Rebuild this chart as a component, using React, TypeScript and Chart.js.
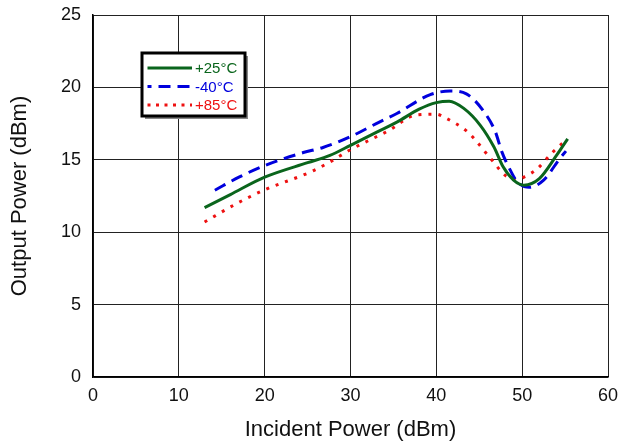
import React, { useEffect, useRef } from "react";
import { Chart, registerables } from "chart.js";

Chart.register(...registerables);

const seriesLabels = ["+25°C", "-40°C", "+85°C"];

const x25 = [13, 16, 20, 25, 27.6, 30, 33, 35.4, 38, 40, 41.5, 43.2, 45.1, 46.7, 47.8, 49, 50.2, 52, 54, 55.3];
const y25 = [11.7, 12.6, 13.8, 14.8, 15.3, 16.0, 16.9, 17.6, 18.5, 18.95, 19.05, 18.55, 17.4, 15.9, 14.5, 13.6, 13.25, 13.7, 15.3, 16.45];

const xM40 = [14.2, 17, 20, 24.5, 26.8, 30, 33, 35.4, 39.3, 41.6, 43.5, 45.7, 46.9, 47.6, 48.6, 49.4, 50.8, 52.5, 54.4, 55.1];
const yM40 = [12.9, 13.8, 14.6, 15.5, 15.85, 16.6, 17.5, 18.2, 19.5, 19.75, 19.55, 18.2, 16.9, 15.6, 14.3, 13.5, 13.1, 13.6, 15.1, 15.6];

const x85 = [13, 16.5, 19.9, 25.5, 27.6, 30, 34.4, 37.7, 40, 41.2, 43.4, 44.5, 46.3, 48.2, 49.4, 50.5, 51.7, 53.6, 54.8];
const y85 = [10.7, 11.9, 12.9, 14.2, 14.85, 15.7, 17.0, 18.1, 18.15, 17.85, 17.05, 16.4, 15.1, 13.85, 13.65, 13.9, 14.35, 15.55, 16.2];

const xTicks = [0, 10, 20, 30, 40, 50, 60];
const yTicks = [0, 5, 10, 15, 20, 25];

const colors = ["#0a651c", "#0000dd", "#ee1111"];
const dashes: number[][] = [[], [12, 7], [3, 7]];

const toPts = (xs: number[], ys: number[]) => xs.map((x, i) => ({ x, y: ys[i] }));

const legendPlugin = {
  id: "boxLegend",
  afterDatasetsDraw(chart: any) {
    const ctx = chart.ctx;
    const x0 = 142, y0 = 53, w = 103, h = 63;
    ctx.save();
    ctx.fillStyle = "#888";
    ctx.fillRect(x0 + 3, y0 + 3, w, h);
    ctx.fillStyle = "#fff";
    ctx.fillRect(x0, y0, w, h);
    ctx.strokeStyle = "#000";
    ctx.lineWidth = 3;
    ctx.strokeRect(x0, y0, w, h);
    const rows = [68, 86.5, 105];
    chart.data.datasets.forEach((ds: any, i: number) => {
      const y = rows[i];
      ctx.beginPath();
      ctx.strokeStyle = ds.borderColor;
      ctx.lineWidth = 3;
      ctx.setLineDash(i === 1 ? [12, 7] : i === 2 ? [3, 5.5] : []);
      ctx.lineDashOffset = i === 1 ? -11 : 0;
      ctx.moveTo(147.5, y);
      ctx.lineTo(192, y);
      ctx.stroke();
      ctx.setLineDash([]);
      ctx.fillStyle = ds.borderColor;
      ctx.font = "15px 'Liberation Sans', Arial, sans-serif";
      ctx.textBaseline = "middle";
      ctx.textAlign = "left";
      ctx.fillText(ds.label, 195, y + 1);
    });
    ctx.restore();
  },
};

export default function App() {
  const ref = useRef<HTMLCanvasElement | null>(null);
  useEffect(() => {
    document.body.style.margin = "0";
    if (!ref.current) return;
    Chart.defaults.font.family = "'Liberation Sans', Arial, sans-serif";
    const chart = new Chart(ref.current, {
      type: "scatter",
      data: {
        datasets: [
          { label: seriesLabels[0], data: toPts(x25, y25) },
          { label: seriesLabels[1], data: toPts(xM40, yM40) },
          { label: seriesLabels[2], data: toPts(x85, y85) },
        ].map((d, i) => ({
          ...d,
          showLine: true,
          borderColor: colors[i],
          backgroundColor: colors[i],
          borderWidth: 3,
          borderDash: dashes[i],
          pointRadius: 0,
          cubicInterpolationMode: "monotone" as const,
        })),
      },
      options: {
        animation: false,
        responsive: false,
        devicePixelRatio: 1,
        layout: { padding: { top: 15, right: 15, left: 0, bottom: 0 } },
        plugins: { legend: { display: false }, tooltip: { enabled: false } },
        scales: {
          x: {
            type: "linear",
            min: 0,
            max: 60,
            afterBuildTicks: (s: any) => { s.ticks = xTicks.map((v) => ({ value: v })); },
            afterFit: (s: any) => { s.height = 66; s.paddingLeft = 0; s.paddingRight = 0; },
            grid: { color: "#222", lineWidth: 1, drawTicks: false },
            border: { color: "#000", width: 1.5 },
            ticks: { color: "#111", font: { size: 18 }, padding: 8 },
            title: { display: true, text: "Incident Power (dBm)", color: "#111", font: { size: 22 }, padding: { top: 0, bottom: 0 } },
          },
          y: {
            type: "linear",
            min: 0,
            max: 25,
            afterBuildTicks: (s: any) => { s.ticks = yTicks.map((v) => ({ value: v })); },
            afterFit: (s: any) => { s.width = 93; s.paddingTop = 0; s.paddingBottom = 0; },
            grid: { color: "#222", lineWidth: 1, drawTicks: false },
            border: { color: "#000", width: 1.5 },
            ticks: { color: "#111", font: { size: 18 }, padding: 12 },
            title: { display: true, text: "Output Power (dBm)", color: "#111", font: { size: 22 }, padding: { top: 7, bottom: 0 } },
          },
        },
      },
      plugins: [legendPlugin],
    });
    return () => chart.destroy();
  }, []);
  return (
    <div style={{ width: 623, height: 443 }}>
      <canvas ref={ref} width={623} height={443} style={{ display: "block" }} />
    </div>
  );
}
